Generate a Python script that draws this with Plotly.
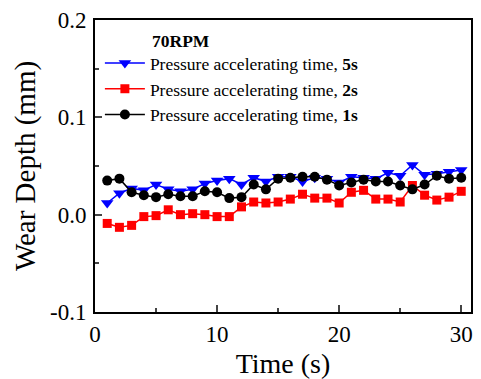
import plotly.graph_objects as go

time_s = list(range(1, 31))
wear_5s = [0.012, 0.022, 0.027, 0.025, 0.031, 0.026, 0.024, 0.026, 0.032, 0.035,
           0.037, 0.031, 0.038, 0.034, 0.039, 0.039, 0.034, 0.038, 0.037, 0.033,
           0.039, 0.038, 0.037, 0.043, 0.040, 0.051, 0.041, 0.042, 0.044, 0.046]
wear_2s = [-0.009, -0.013, -0.011, -0.002, -0.001, 0.005, 0.000, 0.001, 0.000, -0.002,
           -0.002, 0.008, 0.013, 0.012, 0.013, 0.016, 0.021, 0.017, 0.017, 0.012,
           0.023, 0.025, 0.016, 0.016, 0.013, 0.030, 0.020, 0.015, 0.018, 0.024]
wear_1s = [0.035, 0.037, 0.023, 0.020, 0.018, 0.021, 0.019, 0.019, 0.024, 0.023,
           0.017, 0.018, 0.031, 0.026, 0.037, 0.038, 0.039, 0.039, 0.036, 0.030,
           0.033, 0.036, 0.034, 0.034, 0.030, 0.026, 0.031, 0.040, 0.037, 0.038]

font = "Liberation Serif, Times New Roman, serif"

fig = go.Figure()
fig.add_trace(go.Scatter(x=time_s, y=wear_5s, mode="lines+markers",
                         name="Pressure accelerating time, <b>5s</b>",
                         line=dict(color="#0000ff", width=1.5),
                         marker=dict(symbol="triangle-down", size=11, color="#0000ff")))
fig.add_trace(go.Scatter(x=time_s, y=wear_2s, mode="lines+markers",
                         name="Pressure accelerating time, <b>2s</b>",
                         line=dict(color="#ff0000", width=1.5),
                         marker=dict(symbol="square", size=9, color="#ff0000")))
fig.add_trace(go.Scatter(x=time_s, y=wear_1s, mode="lines+markers",
                         name="Pressure accelerating time, <b>1s</b>",
                         line=dict(color="#000000", width=1.5),
                         marker=dict(symbol="circle", size=10, color="#000000")))

# the page body has an 8px default margin, so the figure is offset by 8px
fig.update_layout(
    width=465, height=371,
    margin=dict(l=87, r=2, t=12, b=67, autoexpand=False),
    paper_bgcolor="white", plot_bgcolor="white",
    font=dict(family=font, color="black", size=23),
    showlegend=True,
    legend=dict(x=0.013, y=0.914, xanchor="left", yanchor="top",
                bgcolor="rgba(0,0,0,0)", font=dict(size=17.5, family=font),
                tracegroupgap=0, itemwidth=40),
    annotations=[dict(text="<b>70RPM</b>", x=0.146, y=0.97, xref="paper", yref="paper",
                      xanchor="left", yanchor="top", showarrow=False,
                      font=dict(size=17.5, family=font))],
)
fig.update_xaxes(range=[0, 30.8], tickvals=[0, 10, 20, 30], ticks="inside", ticklen=7,
                 tickwidth=1.5, showline=True, linecolor="black", linewidth=2, mirror=True,
                 showgrid=False, zeroline=False, ticklabeloverflow="allow",
                 minor=dict(ticks="inside", ticklen=4, tickwidth=1.5, dtick=5, tick0=0, showgrid=False),
                 title=dict(text="Time (s)", font=dict(size=28), standoff=14),
                 tickfont=dict(size=23))
fig.update_yaxes(range=[-0.1, 0.2], tickvals=[-0.1, 0.0, 0.1, 0.2], ticktext=["-0.1", "0.0", "0.1", "0.2"],
                 ticks="inside", ticklen=7, tickwidth=1.5,
                 showline=True, linecolor="black", linewidth=2, mirror=True,
                 showgrid=False, zeroline=False, ticklabeloverflow="allow",
                 ticklabelstandoff=2,
                 minor=dict(ticks="inside", ticklen=4, tickwidth=1.5, dtick=0.05, tick0=0, showgrid=False),
                 title=dict(text="Wear Depth (mm)", font=dict(size=29), standoff=6),
                 tickfont=dict(size=23))

fig.write_html("out.html")
